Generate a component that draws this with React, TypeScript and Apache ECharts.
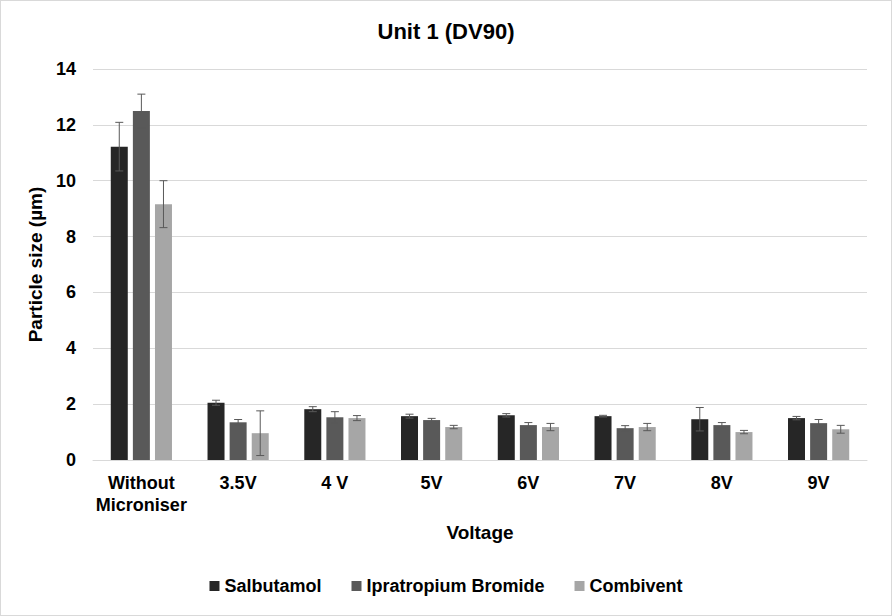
import React, { useEffect, useRef } from "react";
import * as echarts from "echarts";

const categories = ["Without\nMicroniser", "3.5V", "4 V", "5V", "6V", "7V", "8V", "9V"];
const seriesNames = ["Salbutamol", "Ipratropium Bromide", "Combivent"];
const salbutamol = [11.22, 2.05, 1.82, 1.57, 1.6, 1.57, 1.46, 1.5];
const salbutamolErr = [0.87, 0.09, 0.09, 0.07, 0.06, 0.03, 0.42, 0.06];
const ipratropium = [12.5, 1.35, 1.53, 1.43, 1.25, 1.14, 1.25, 1.32];
const ipratropiumErr = [0.6, 0.1, 0.2, 0.06, 0.09, 0.09, 0.09, 0.13];
const combivent = [9.16, 0.96, 1.5, 1.18, 1.18, 1.18, 1.0, 1.1];
const combiventErr = [0.84, 0.8, 0.09, 0.06, 0.13, 0.13, 0.06, 0.14];
const yTicks = [0, 2, 4, 6, 8, 10, 12, 14];

const colors = ["#262626", "#595959", "#a6a6a6"];
const FONT = "Liberation Sans, Arial, sans-serif";

export default function App() {
  const ref = useRef<HTMLDivElement>(null);
  useEffect(() => {
    document.body.style.margin = "0";
    const chart = echarts.init(ref.current!, undefined, { renderer: "svg" });
    const values = [salbutamol, ipratropium, combivent];
    const errs = [salbutamolErr, ipratropiumErr, combiventErr];
    const barWidth = 17;
    const step = barWidth * 1.3;

    const barSeries = values.map((v, i) => ({
      name: seriesNames[i],
      type: "bar",
      data: v,
      barWidth,
      barGap: "30%",
      itemStyle: { color: colors[i] },
    }));

    const errSeries = values.map((v, i) => ({
      name: seriesNames[i] + " err",
      type: "custom",
      z: 5,
      data: v.map((val, k) => [k, val, errs[i][k]]),
      encode: { x: 0, y: 1 },
      renderItem: (params: any, api: any) => {
        const k = api.value(0);
        const val = api.value(1);
        const e = api.value(2);
        const offset = (i - 1) * step;
        const top = api.coord([k, val + e]);
        const bot = api.coord([k, val - e]);
        const x = top[0] + offset;
        const hw = 4;
        const style = { stroke: "#595959", lineWidth: 1 };
        return {
          type: "group",
          children: [
            { type: "line", shape: { x1: x, y1: top[1], x2: x, y2: bot[1] }, style },
            { type: "line", shape: { x1: x - hw, y1: top[1], x2: x + hw, y2: top[1] }, style },
            { type: "line", shape: { x1: x - hw, y1: bot[1], x2: x + hw, y2: bot[1] }, style },
          ],
        };
      },
    }));

    chart.setOption({
      animation: false,
      textStyle: { fontFamily: FONT },
      title: {
        text: "Unit 1 (DV90)",
        left: "center",
        top: 14,
        textStyle: { fontFamily: FONT, fontSize: 22, fontWeight: "bold", color: "#000" },
      },
      legend: {
        data: seriesNames,
        top: 571,
        left: "center",
        itemWidth: 10,
        itemHeight: 10,
        itemGap: 30,
        icon: "rect",
        textStyle: { fontFamily: FONT, fontSize: 18, fontWeight: "bold", color: "#000" },
      },
      grid: { left: 92, right: 24, top: 68, bottom: 155 },
      xAxis: {
        type: "category",
        data: categories,
        name: "Voltage",
        nameLocation: "middle",
        nameGap: 63,
        nameTextStyle: { fontFamily: FONT, fontSize: 19, fontWeight: "bold", color: "#000" },
        axisLine: { lineStyle: { color: "#d9d9d9" } },
        axisTick: { show: false },
        axisLabel: {
          interval: 0,
          fontFamily: FONT,
          fontSize: 18,
          fontWeight: "bold",
          color: "#000",
          margin: 12,
          lineHeight: 22,
        },
      },
      yAxis: {
        type: "value",
        min: 0,
        max: 14,
        interval: 2,
        name: "Particle size (µm)",
        nameLocation: "middle",
        nameGap: 42,
        nameTextStyle: { fontFamily: FONT, fontSize: 19, fontWeight: "bold", color: "#000" },
        axisLine: { show: false },
        axisTick: { show: false },
        splitLine: { lineStyle: { color: "#d9d9d9" } },
        axisLabel: {
          fontFamily: FONT,
          fontSize: 18,
          fontWeight: "bold",
          color: "#000",
          margin: 17,
          formatter: (v: number) => (yTicks.includes(v) ? String(v) : ""),
        },
      },
      series: [...barSeries, ...errSeries],
    });
    return () => chart.dispose();
  }, []);
  return (
    <div
      ref={ref}
      style={{
        width: 892,
        height: 616,
        boxSizing: "border-box",
        border: "1px solid #d9d9d9",
        background: "#fff",
      }}
    />
  );
}
